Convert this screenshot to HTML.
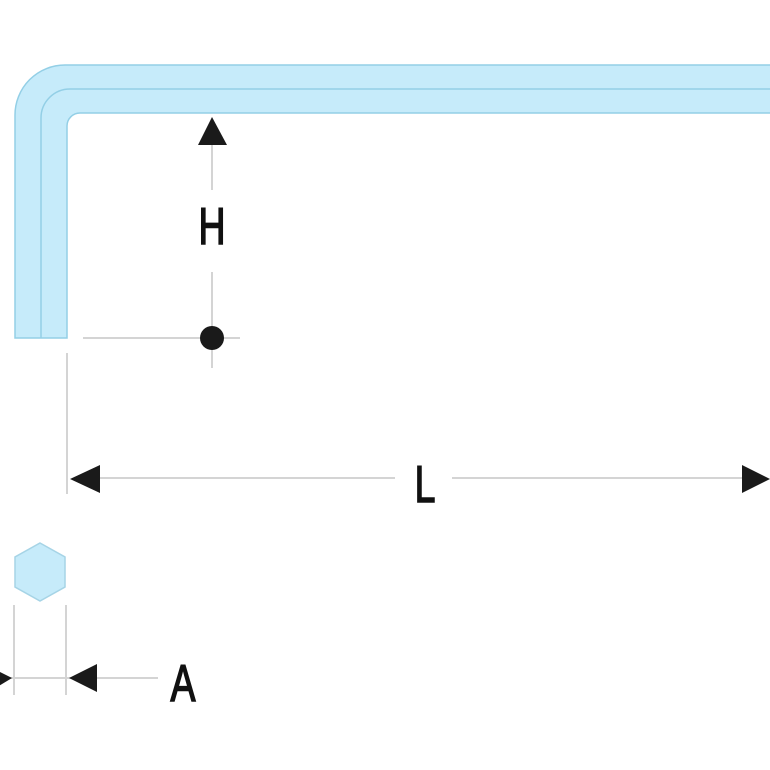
<!DOCTYPE html>
<html><head><meta charset="utf-8"><style>
html,body{margin:0;padding:0;background:#fff}
svg{display:block}
text{font-family:"Liberation Sans Narrow","Liberation Sans",sans-serif;fill:#111;stroke:#111;stroke-width:1.6}
</style></head><body>
<svg width="770" height="770" viewBox="0 0 770 770" xmlns="http://www.w3.org/2000/svg">
<path d="M15,338 L15,115 A50,50 0 0 1 65,65 L772,65 L772,113 L80,113 A13,13 0 0 0 67,126 L67,338 Z" fill="#c6ebfa" stroke="#93cfe6" stroke-width="1.5"/>
<path d="M41,338 L41,118 A29,29 0 0 1 70,89 L772,89" fill="none" stroke="#93cfe6" stroke-width="1.5"/>
<line x1="212" y1="145" x2="212" y2="190" stroke="#d4d4d4" stroke-width="2"/>
<line x1="212" y1="272" x2="212" y2="368" stroke="#d4d4d4" stroke-width="2"/>
<polygon points="212,117 198,145 227,145" fill="#1a1a1a"/>
<line x1="83" y1="338" x2="240" y2="338" stroke="#d4d4d4" stroke-width="2"/>
<circle cx="212" cy="338" r="12" fill="#1a1a1a"/>
<text x="212" y="244" font-size="52" text-anchor="middle" transform="translate(212 0) scale(0.72 1) translate(-212 0)">H</text>
<line x1="67" y1="353" x2="67" y2="494" stroke="#d4d4d4" stroke-width="2"/>
<line x1="100" y1="478" x2="395" y2="478" stroke="#d4d4d4" stroke-width="2"/>
<line x1="452" y1="478" x2="742" y2="478" stroke="#d4d4d4" stroke-width="2"/>
<polygon points="70,479 100,465 100,493" fill="#1a1a1a"/>
<polygon points="770,479 742,465 742,493" fill="#1a1a1a"/>
<text x="425" y="502" font-size="52" text-anchor="middle" transform="translate(425 0) scale(0.72 1) translate(-425 0)">L</text>
<polygon points="40,543 65,557 65,587 40,601 15,587 15,557" fill="#c6ebfa" stroke="#a6d4e6" stroke-width="1.5"/>
<line x1="14" y1="605" x2="14" y2="695" stroke="#d4d4d4" stroke-width="2"/>
<line x1="66" y1="605" x2="66" y2="695" stroke="#d4d4d4" stroke-width="2"/>
<line x1="0" y1="678" x2="158" y2="678" stroke="#d4d4d4" stroke-width="2"/>
<polygon points="12,678 -8,668 -8,690" fill="#1a1a1a"/>
<polygon points="69,678 97,664 97,692" fill="#1a1a1a"/>
<text x="183" y="701" font-size="52" text-anchor="middle" transform="translate(183 0) scale(0.72 1) translate(-183 0)">A</text>
</svg>
</body></html>
